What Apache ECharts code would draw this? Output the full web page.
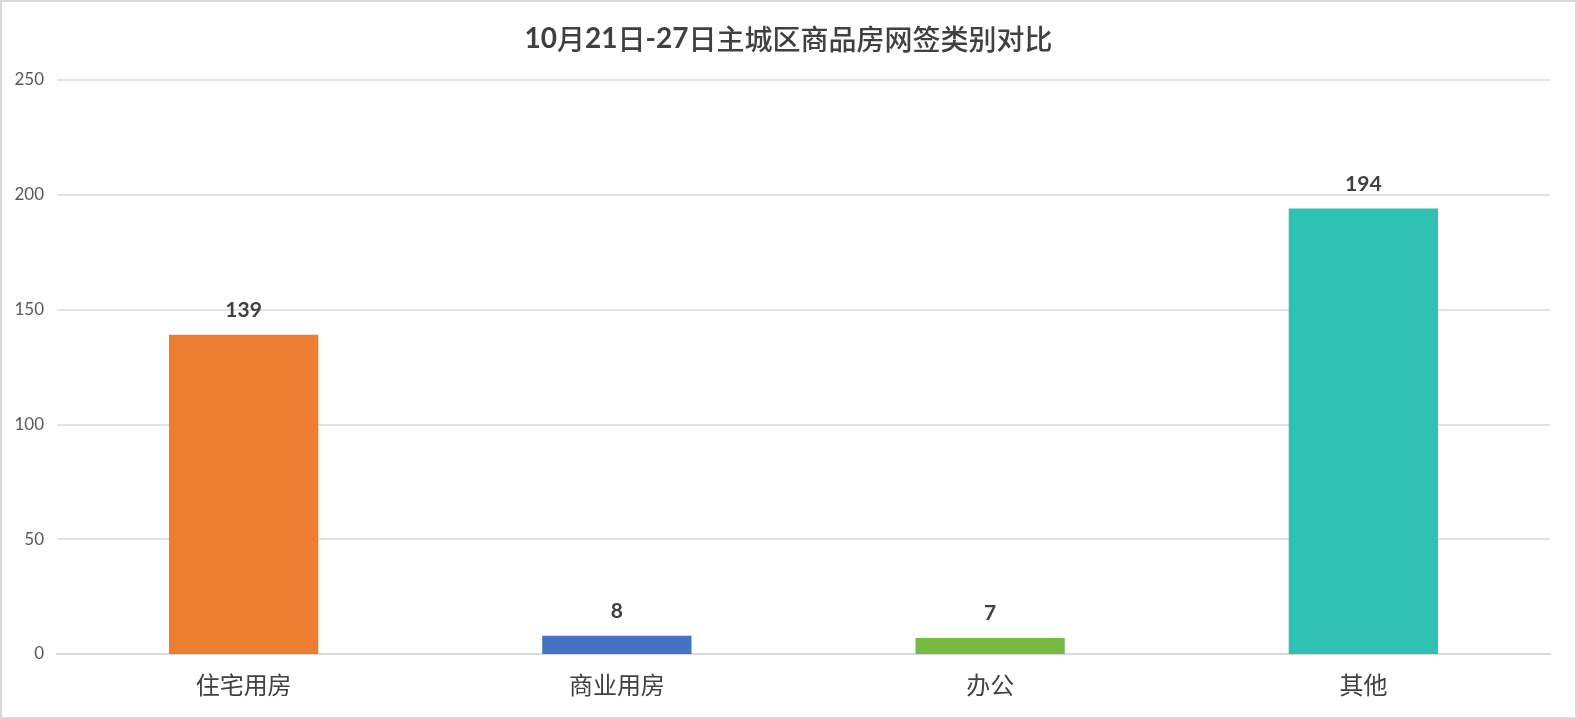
<!DOCTYPE html>
<html>
<head>
<meta charset="utf-8">
<script src="https://cdn.jsdelivr.net/npm/echarts@6/dist/echarts.min.js"></script>
<style>
html,body{margin:0;padding:0;background:#fff;}
#c{width:1577px;height:719px;}
</style>
</head>
<body>
<div id="c"></div>
<script>
const titleText = '10月21日-27日主城区商品房网签类别对比';
const categories = ['住宅用房', '商业用房', '办公', '其他'];
const values = [139, 8, 7, 194];
const barColors = ['#ED7D31', '#4472C4', '#76B943', '#2FC1B4'];
const yTicks = [0, 50, 100, 150, 200, 250];

const FONT = "Lato, 'Noto Sans CJK SC', sans-serif";
// split title into digit runs (bold) and CJK runs (medium)
const richTitle = titleText.match(/[0-9\-]+|[^0-9\-]+/g)
  .map(s => /[0-9\-]/.test(s) ? '{d|' + s + '}' : '{c|' + s + '}').join('');

const chart = echarts.init(document.getElementById('c'));
chart.setOption({
  animation: false,
  backgroundColor: '#fff',
  title: {
    text: richTitle,
    left: 'center',
    top: 20,
    textStyle: {
      fontFamily: FONT, fontSize: 28, color: '#404040',
      rich: {
        d: { fontFamily: 'Lato', fontSize: 28, fontWeight: 'bold', color: '#404040' },
        c: { fontFamily: "'Noto Sans CJK SC'", fontSize: 28, fontWeight: 500, color: '#404040' }
      }
    }
  },
  graphic: [{
    type: 'rect',
    shape: { x: 1, y: 1, width: 1575, height: 717 },
    style: { fill: 'none', stroke: '#D9D9D9', lineWidth: 2 },
    silent: true
  }],
  grid: { left: 57, right: 27, top: 80, bottom: 65 },
  xAxis: {
    type: 'category',
    data: categories,
    axisTick: { show: false },
    axisLine: { lineStyle: { color: '#D9D9D9', width: 2 } },
    axisLabel: { fontFamily: FONT, fontSize: 24, color: '#404040', margin: 20 }
  },
  yAxis: {
    type: 'value',
    min: yTicks[0],
    max: yTicks[yTicks.length - 1],
    interval: 50,
    axisLine: { show: false },
    axisTick: { show: false },
    splitLine: { lineStyle: { color: '#E3E3E3', width: 2 } },
    axisLabel: { fontFamily: FONT, fontSize: 17, color: '#595959', margin: 13 }
  },
  series: [{
    type: 'bar',
    barWidth: '40%',
    data: values.map((v, i) => ({ value: v, itemStyle: { color: barColors[i] } })),
    label: {
      show: true,
      position: 'top',
      distance: 14,
      fontFamily: FONT,
      fontSize: 21,
      fontWeight: 'bold',
      color: '#404040'
    }
  }]
});
</script>
</body>
</html>
